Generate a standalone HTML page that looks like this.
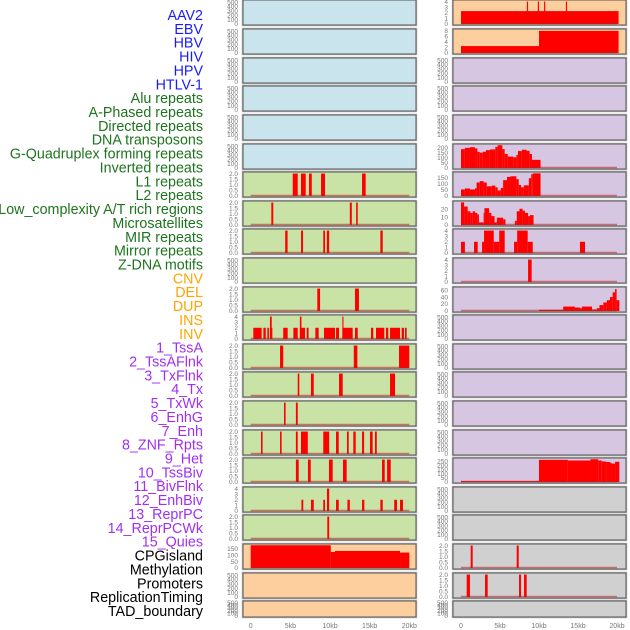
<!DOCTYPE html>
<html><head><meta charset="utf-8"><style>
html,body{margin:0;padding:0;background:#fff;width:630px;height:630px;overflow:hidden}
svg{display:block}
</style></head><body>
<svg id="chart" width="630" height="630" viewBox="0 0 630 630" xmlns="http://www.w3.org/2000/svg"></svg>
<script>
const NS='http://www.w3.org/2000/svg';
const labels=['AAV2','EBV','HBV','HIV','HPV','HTLV-1','Alu repeats','A-Phased repeats','Directed repeats','DNA transposons','G-Quadruplex forming repeats','Inverted repeats','L1 repeats','L2 repeats','Low_complexity A/T rich regions','Microsatellites','MIR repeats','Mirror repeats','Z-DNA motifs','CNV','DEL','DUP','INS','INV','1_TssA','2_TssAFlnk','3_TxFlnk','4_Tx','5_TxWk','6_EnhG','7_Enh','8_ZNF_Rpts','9_Het','10_TssBiv','11_BivFlnk','12_EnhBiv','13_ReprPC','14_ReprPCWk','15_Quies','CPGisland','Methylation','Promoters','ReplicationTiming','TAD_boundary'];
const labelColors=['#1a1aff','#1a1aff','#1a1aff','#1a1aff','#1a1aff','#1a1aff','#1e741e','#1e741e','#1e741e','#1e741e','#1e741e','#1e741e','#1e741e','#1e741e','#1e741e','#1e741e','#1e741e','#1e741e','#1e741e','#ffa500','#ffa500','#ffa500','#ffa500','#ffa500','#a030f0','#a030f0','#a030f0','#a030f0','#a030f0','#a030f0','#a030f0','#a030f0','#a030f0','#a030f0','#a030f0','#a030f0','#a030f0','#a030f0','#a030f0','#000','#000','#000','#000','#000'];
const kbTicks=[0,5,10,15,20];
const kbTickLabels=['0','5kb','10kb','15kb','20kb'];
const leftBg=['b','b','b','b','b','b','g','g','g','g','g','g','g','g','g','g','g','g','g','o','o','o'];
const rightBg=['o','o','p','p','p','p','p','p','p','p','p','p','p','p','p','p','p','y','y','y','y','y'];
const T500=['0','100','200','300','400','500'];
const T2=['0.0','0.5','1.0','1.5','2.0'];
const T4=['0','1','2','3','4'];
// right panel data
const R0bars=[[0,20.2,2.3],[8.45,8.6,4],[9.85,10.0,4],[10.65,10.8,4],[13.45,13.6,4]];
const R1bars=[[0,10,2.5],[10,20.2,8]];
const R5edges=[0,0.5,1.15,1.8,2.1,2.4,2.8,3.2,3.7,4.4,4.7,5.3,5.6,6.0,6.7,7.1,7.3,7.8,8.4,8.8,9.1,10.2];
const R5values=[187,200,206,194,161,152,161,177,184,210,226,187,139,113,106,129,168,181,171,139,81];
const R6edges=[0,0.5,1.15,1.8,2.0,2.4,2.9,3.3,3.95,4.4,4.7,5.1,5.4,5.9,6.35,7.1,7.4,7.7,8.05,8.7,9.0,9.2,10.2];
const R6values=[54,62,54,64,112,123,112,80,86,72,46,67,131,158,163,139,91,72,88,147,180,187];
const R7edges=[0,0.4,0.85,1.2,1.5,1.8,2.1,2.3,2.9,3.0,3.6,3.9,4.3,4.6,5.4,5.7,6.9,7.15,7.5,7.9,8.2,8.6,8.85,9.3];
const R7values=[29,23.7,17.6,15.5,17.6,15.5,13.5,3.3,15.5,21.6,15.5,11.4,3.3,9.4,7.3,0,5.3,17.6,20.8,18.4,15.5,11.4,12.7];
const R8bars=[[0,0.5,2],[1.67,2.14,2],[2.7,2.95,2],[2.95,4.2,4],[4.2,4.9,2],[4.9,5.6,4],[6.8,7.2,2],[7.2,8.55,4],[8.55,9.2,2],[15.25,15.9,2]];
const R9bars=[[8.6,9.06,4]];
const R10edges=[10,13.1,14.6,15.25,15.5,16.8,17.4,17.75,18.25,18.7,19.1,19.45,19.75,19.95,20.3];
const R10values=[3.6,12.7,10,8,12.7,4.5,8,17,24.5,31,40,53.6,63,31];
const R16edges=[0,10,13.7,16.6,17.6,18.05,18.6,19.1,19.3,19.75,20.3];
const R16values=[11,265,257,272,257,246,239,231,220,242];
const R19bars=[[1.24,1.5,2],[7.14,7.4,2]];
const R20bars=[[0.73,1.15,2],[3.08,3.42,2],[7.44,7.7,2],[8.08,8.42,2]];
// left panel data
const L6bars=[[5.3,5.93,2],[6.34,6.94,2],[7.35,7.7,2],[8.87,9.37,2],[14.04,14.5,2]];
const L7bars=[[2.6,2.85,2],[12.5,12.75,2],[13.3,13.5,2]];
const L8bars=[[4.35,4.65,2],[6.35,6.6,2],[9.15,9.37,2],[9.6,9.9,2],[16.35,16.65,2]];
const L10bars=[[8.4,8.75,2],[13.15,13.65,2]];
const L11bars=[[0.33,1.38,2],[1.6,1.9,2],[2.1,2.3,2],[2.43,2.73,2],[2.43,2.65,4],[4.1,4.66,2],[5.38,5.93,2],[6.2,6.85,2],[6.2,6.4,4],[7.06,7.3,2],[8.15,8.57,2],[9.24,10.63,2],[10.76,11.14,2],[11.56,12.86,2],[11.56,11.7,4],[13.15,13.5,2],[15.17,15.46,2],[15.8,16.85,2],[17.06,17.35,2],[17.57,18.83,2],[19.04,19.33,2],[19.46,19.67,2]];
const L12bars=[[3.7,4.1,2],[13.0,13.45,2],[18.7,20.0,2]];
const L13bars=[[5.93,6.13,2],[7.6,7.95,2],[11.14,11.6,2],[17.57,18.2,2]];
const L14bars=[[4.2,4.4,2],[5.7,5.93,2]];
const L15bars=[[1.3,1.5,2],[3.7,3.9,2],[5.7,5.93,2],[6.34,7.2,2],[9.15,9.9,2],[10.76,11.1,2],[12.14,12.36,2],[12.94,13.24,2],[14.04,14.3,2],[15.04,15.38,2],[15.67,15.9,2]];
const L16bars=[[5.7,6.05,2],[7.22,7.57,2],[9.87,10.34,2],[11.64,12.1,2],[16.56,16.9,2],[17.2,17.66,2]];
const L17bars=[[6.4,6.63,2],[7.6,7.95,2],[9.15,9.37,2],[9.62,9.9,4],[10.76,11.1,2],[12.2,12.5,2],[14.04,14.33,2],[16.35,16.65,2],[18.1,18.45,2],[18.83,19.2,2]];
const L18bars=[[9.66,9.9,2]];
const L19bars=[[0,10.1,180],[10.1,10.63,127],[10.63,18.83,135],[18.83,20.0,122]];

function prof(e,v){const s=[];for(let i=0;i<v.length;i++)s.push([e[i],e[i+1],v[i]]);return s;}
const leftSpec={6:[L6bars,2.05,T2],7:[L7bars,2.05,T2],8:[L8bars,2.05,T2],10:[L10bars,2.05,T2],11:[L11bars,4.1,T4],12:[L12bars,2.05,T2],13:[L13bars,2.05,T2],14:[L14bars,2.05,T2],15:[L15bars,2.05,T2],16:[L16bars,2.05,T2],17:[L17bars,4.1,T4],18:[L18bars,2.05,T2],19:[L19bars,182,['0','50','100','150']]};
const rightSpec={0:[R0bars,4.1,T4],1:[R1bars,8.3,['0','2','4','6','8']],5:[prof(R5edges,R5values),228,['0','50','100','150','200']],6:[prof(R6edges,R6values),190,['0','50','100','150']],7:[prof(R7edges,R7values),29.5,['0','10','20']],8:[R8bars,4.1,T4],9:[R9bars,4.1,T4],10:[prof(R10edges,R10values),66,['0','20','40','60']],16:[prof(R16edges,R16values),275,['0','50','100','150','200','250']],19:[R19bars,2.05,T2],20:[R20bars,2.05,T2]};
const bgColor={b:'#c9e4ec',g:'#c9e2a6',o:'#fecf9e',p:'#d6c6e2',y:'#d0d0d0'};
const svg=document.getElementById('chart');
function mk(tag,attrs,parent){const e=document.createElementNS(NS,tag);for(const k in attrs)e.setAttribute(k,attrs[k]);(parent||svg).appendChild(e);return e;}
const sides=[{x0:243,x1:416,sx:kb=>250.7+kb*7.93,lab:238,bgs:leftBg,spec:leftSpec,name:'left'},{x0:453,x1:626,sx:kb=>461+kb*7.8,lab:448,bgs:rightBg,spec:rightSpec,name:'right'}];
for(let r=0;r<22;r++){
  const top=r===0?0:Math.round(0.5+r*28.6);
  const h=r===21?16:25;
  sides.forEach(s=>{
    const g=mk('g',{});
    
    
    mk('rect',{x:s.x0-0.5,y:top-0.5,width:s.x1-s.x0+1,height:h+1,fill:'none',stroke:'#bbb','stroke-width':1.5},g);
    mk('rect',{x:s.x0,y:top,width:s.x1-s.x0,height:h,fill:bgColor[s.bgs[r]],stroke:'#555','stroke-width':1},g);
    const sp=s.spec[r];
    const segs=sp?sp[0]:null, ymax=sp?sp[1]:525, ticks=sp?sp[2]:T500;
    const sy=v=>top+h-1-v/ymax*(h-2);
    ticks.forEach(t=>{
      const tx=mk('text',{x:s.lab,y:sy(parseFloat(t))+2.2,'font-size':6.5,fill:'#777','text-anchor':'end','font-family':'Liberation Sans, sans-serif'},g);
      
      
      tx.textContent=t;
    });
    if(segs){
      segs.forEach(d=>{
        const b=mk('rect',{x:s.sx(d[0]),y:sy(d[2]),width:Math.max(0.8,s.sx(d[1])-s.sx(d[0])),height:sy(0)-sy(d[2]),fill:'#ff0000'},g);
        
        
      });
      const ln=mk('line',{x1:s.sx(0),x2:s.sx(20),y1:sy(0)-0.5,y2:sy(0)-0.5,stroke:'rgba(190,30,30,0.55)','stroke-width':1.5},g);
      
      
    }
  });
}
sides.forEach(s=>{
  kbTicks.forEach((k,i)=>{
    const t=mk('text',{x:s.sx(k),y:628,'font-size':7,fill:'#777','text-anchor':'middle','font-family':'Liberation Sans, sans-serif'});
    
    
    t.textContent=kbTickLabels[i];
  });
});
labels.forEach((l,i)=>{
  const t=mk('text',{x:203,y:15+i*13.86+5,'font-size':14.3,fill:labelColors[i],'text-anchor':'end','font-family':'Liberation Sans, sans-serif'});
  
  
  t.textContent=l;
});
</script>
</body></html>
